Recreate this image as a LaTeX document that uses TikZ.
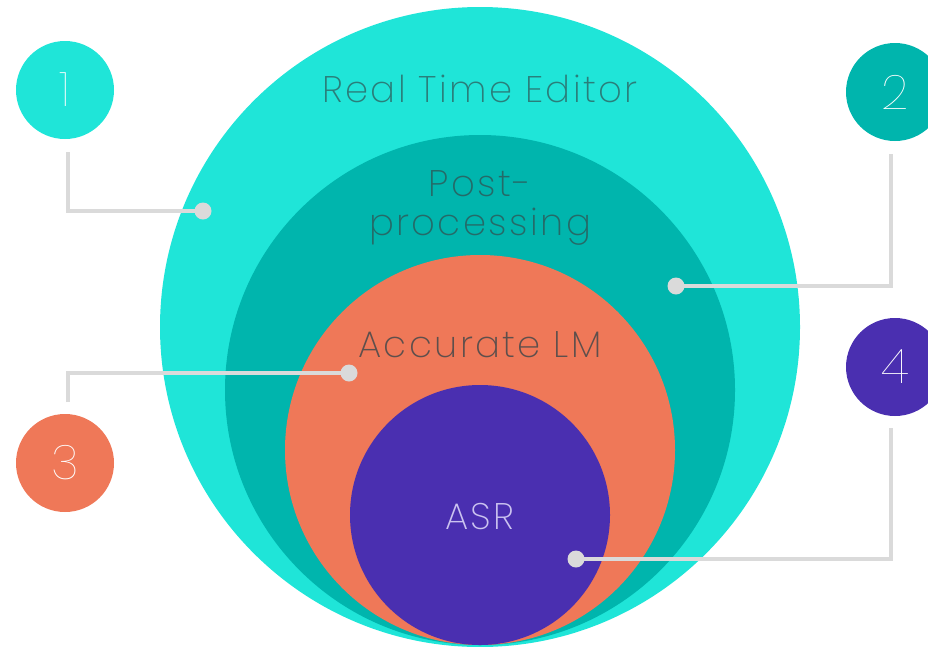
\documentclass[tikz,border=0pt]{standalone}
\usepackage{fontspec}
\setmainfont{Poppins ExtraLight}[LetterSpace=6.5]
\newfontfamily\thinfont{Poppins Thin}
\usepackage{xcolor}
\usetikzlibrary{positioning}

\definecolor{outercyan}{HTML}{1FE5D8}
\definecolor{postteal}{HTML}{00B5AD}
\definecolor{lmorange}{HTML}{EF7858}
\definecolor{asrpurple}{HTML}{4A2FB0}
\definecolor{pingray}{HTML}{DADADA}
\definecolor{editortext}{HTML}{2A7E7A}
\definecolor{posttext}{HTML}{256A68}
\definecolor{lmtext}{HTML}{5E4F4C}
\definecolor{asrtext}{HTML}{CBC3F0}

\begin{document}
\begin{tikzpicture}[x=1pt,y=-1pt]
\tikzstyle{ring}=[circle,inner sep=0pt,draw=none]
\tikzstyle{badge}=[circle,minimum size=98pt,inner sep=0pt,text=white,font=\thinfont\fontsize{48}{48}\selectfont]
\tikzstyle{pin}=[circle,fill=pingray,minimum size=17pt,inner sep=0pt]
\tikzstyle{leader}=[draw=pingray,line width=4pt]
\tikzstyle{layer}=[font=\fontsize{37}{39}\selectfont,align=center,inner sep=0pt]

\useasboundingbox (0,0) rectangle (928,646);

%% Nested layers
\node [ring,fill=outercyan,minimum size=640pt] (editor) at (480,327) {};
\node [ring,fill=postteal,minimum size=510pt] (post) at (480,390) {};
\node [ring,fill=lmorange,minimum size=390pt] (lm) at (480,450) {};
\node [ring,fill=asrpurple,minimum size=260pt] (asr) at (480,515) {};

%% Layer names
\node [layer,text=editortext,anchor=base] (editorname) at (480,102) {Real Time Editor};
\node [layer,text=posttext] (postname) at (480,208) {Post-\\processing};
\node [layer,text=lmtext,anchor=base] (lmname) at (480,357) {Accurate LM};
\node [layer,text=asrtext,anchor=base] (asrname) at (480,529) {ASR};

%% Numbered badges
\node [badge,fill=outercyan] (b1) at (65,90) {1};
\node [badge,fill=postteal] (b2) at (895,92) {2};
\node [badge,fill=lmorange] (b3) at (65,463) {3};
\node [badge,fill=asrpurple] (b4) at (895,367) {4};

%% Leader lines, from below/above the badge to the pin
\coordinate (s1) at (68,152);
\coordinate (s2) at (891,154);
\coordinate (s3) at (68,402);
\coordinate (s4) at (891,428);
\coordinate (q1) at (203,211);
\coordinate (q2) at (676,286);
\coordinate (q3) at (349,373);
\coordinate (q4) at (576,559);
\draw [leader] (s1) |- (q1);
\draw [leader] (s2) |- (q2);
\draw [leader] (s3) |- (q3);
\draw [leader] (s4) |- (q4);

%% Pins on the layers
\node [pin] (p1) at (q1) {};
\node [pin] (p2) at (q2) {};
\node [pin] (p3) at (q3) {};
\node [pin] (p4) at (q4) {};
\end{tikzpicture}
\end{document}
